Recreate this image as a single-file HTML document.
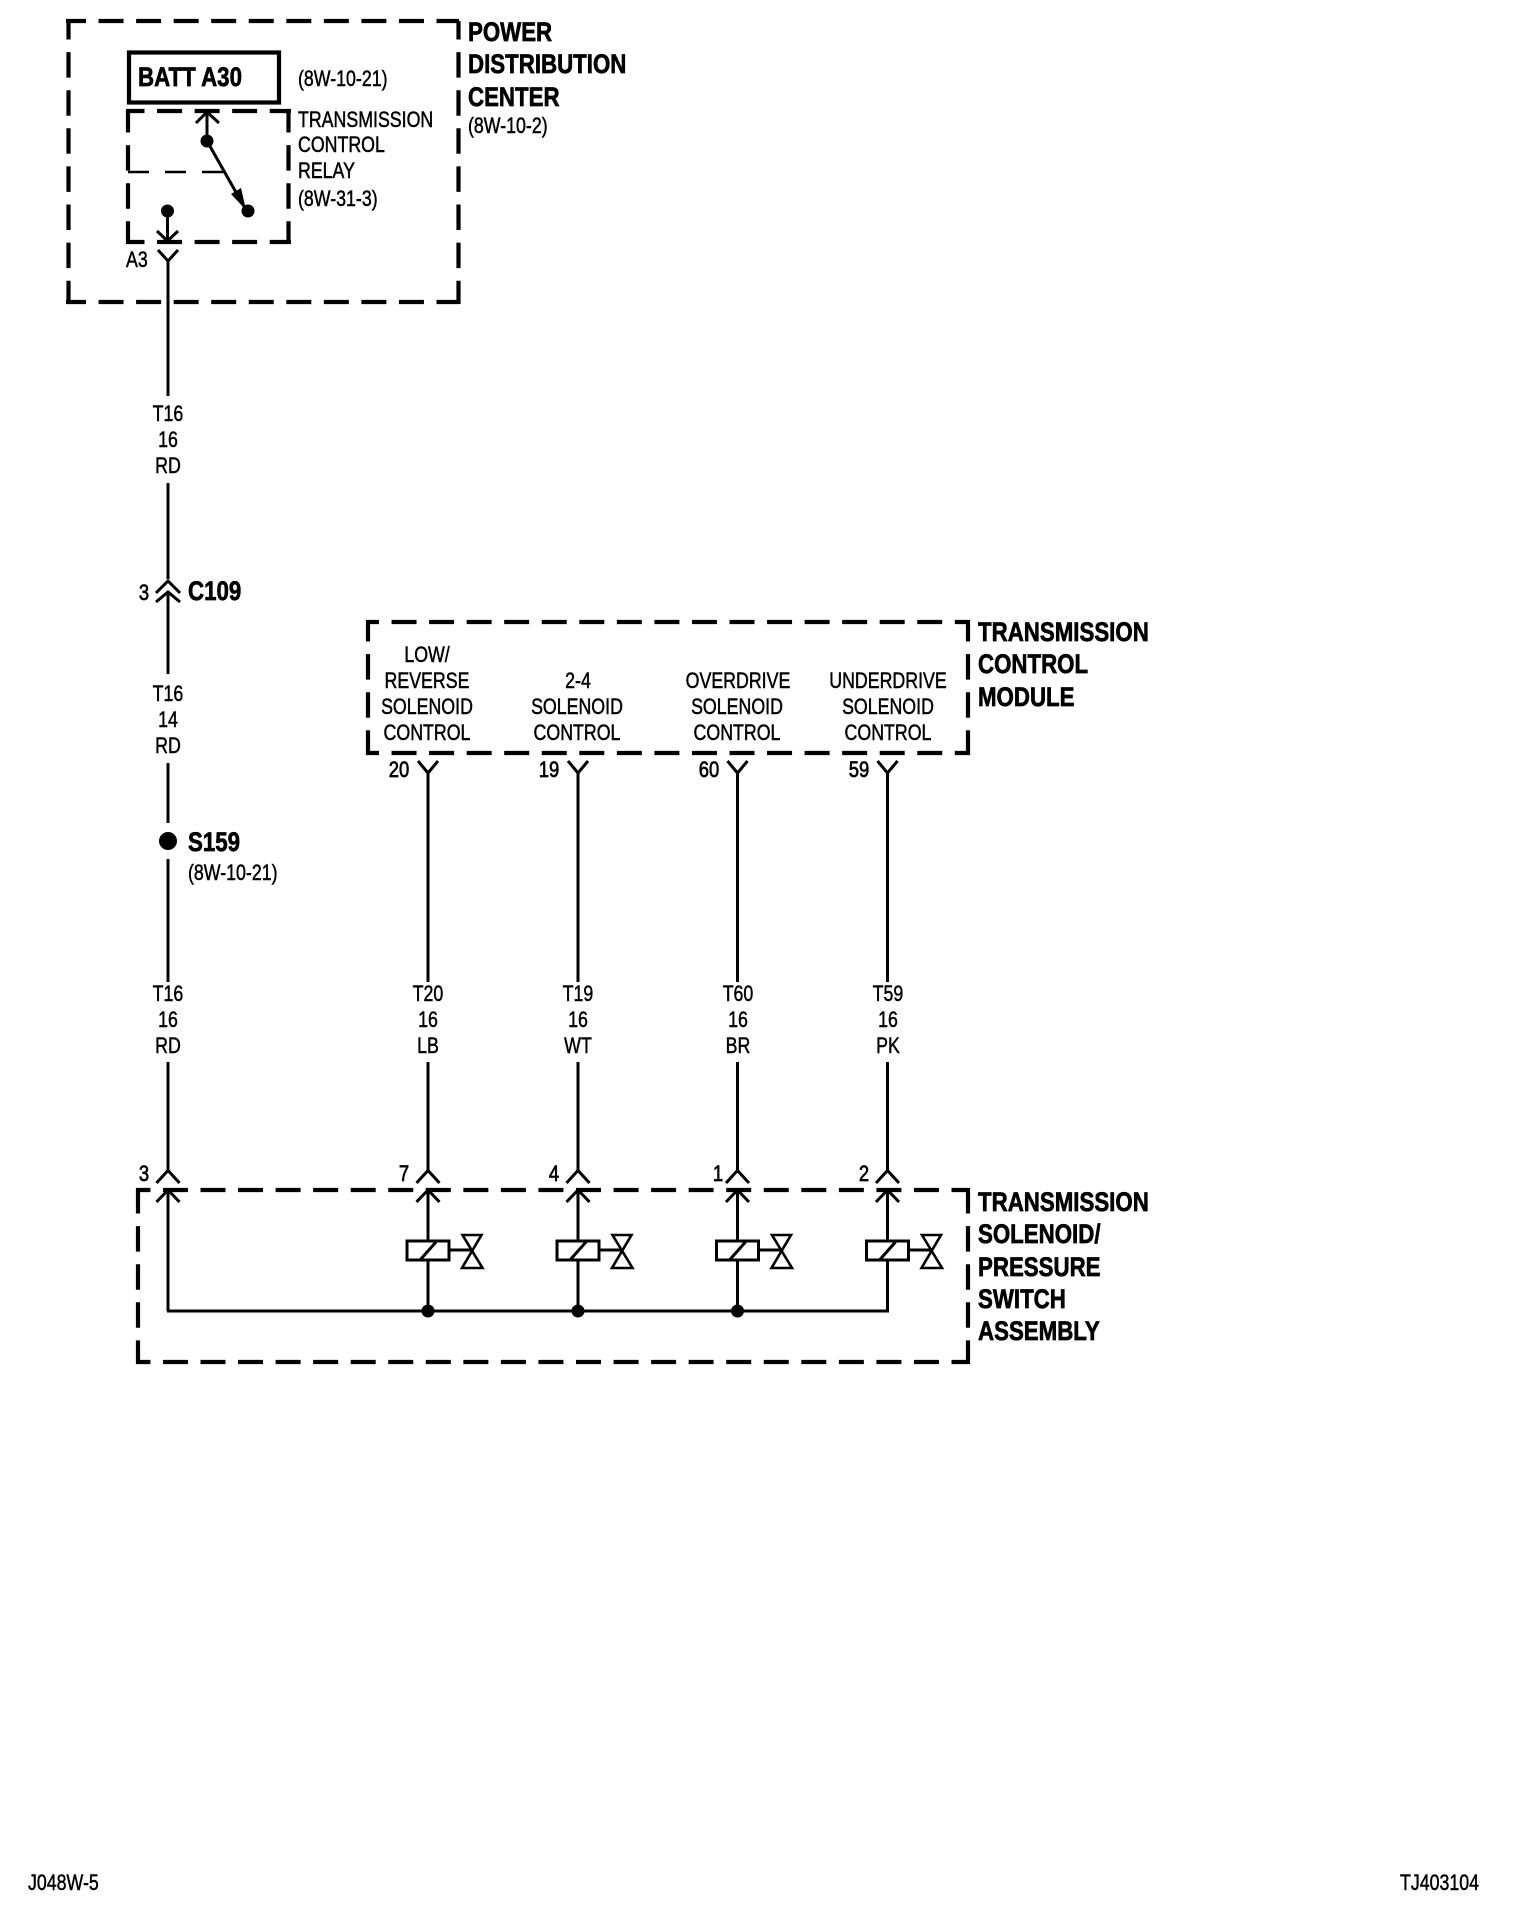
<!DOCTYPE html>
<html><head><meta charset="utf-8"><title>Wiring diagram</title>
<style>
html,body{margin:0;padding:0;background:#fff}
svg{display:block}
text{fill:#000;font-family:"Liberation Sans",sans-serif;transform-box:fill-box}
.b{font-size:27px;font-weight:bold;stroke:#000;stroke-width:.7px;transform-origin:0 0;transform:scaleX(.825)}
.r{font-size:22.5px;stroke:#000;stroke-width:.5px;transform-origin:0 0;transform:scaleX(.79)}
.c{font-size:22.5px;stroke:#000;stroke-width:.5px;text-anchor:middle;transform-origin:50% 0;transform:scaleX(.79)}
.p{font-size:22.5px;stroke:#000;stroke-width:.7px;text-anchor:middle;transform-origin:50% 0;transform:scaleX(.82)}
.w{fill:none;stroke:#000;stroke-width:3}
.d{fill:none;stroke:#000;stroke-width:4.2;stroke-dasharray:25 12.55}
.dv{fill:none;stroke:#000;stroke-width:4.2;stroke-dasharray:25.5 12.6}
</style></head>
<body>
<svg width="1520" height="1912" viewBox="0 0 1520 1912" xmlns="http://www.w3.org/2000/svg">
<rect width="1520" height="1912" fill="#fff"/>
<defs>
<g id="conn">
<path class="w" d="M-11.5 1183 L0 1170.5 L11.5 1183"/>
<path class="w" d="M-11.5 1202 L0 1190 L11.5 1202"/>
<path class="w" d="M0 1062V1171M0 1190V1311"/>
</g>
<g id="sol">
<rect x="-21" y="1241" width="42" height="19" fill="#fff" stroke="#000" stroke-width="3"/>
<path class="w" d="M-8 1260 L8 1242M21 1250H44"/>
<path fill="none" stroke="#000" stroke-width="2.6" d="M34.5 1235H53.5L34 1268H54.5L34.5 1235Z"/>
</g>
<path id="y" class="w" d="M-10 761 L0 773 L10 761M0 773V982"/>
</defs>

<!-- PDC box -->
<path class="d" stroke-dashoffset="5" d="M66 21H459"/>
<path class="d" stroke-dashoffset="5" d="M66 302H459"/>
<path class="dv" stroke-dashoffset="7" d="M68.5 21V304"/>
<path class="dv" stroke-dashoffset="7" d="M458.5 21V304"/>
<!-- BATT -->
<rect x="129" y="52.5" width="150" height="50" fill="none" stroke="#000" stroke-width="4.2"/>
<!-- relay box -->
<path class="d" stroke-dashoffset="6.5" d="M126 111H291"/>
<path class="d" stroke-dashoffset="6.5" d="M126 242H291"/>
<path class="dv" stroke-dashoffset="4" d="M128 111V244"/>
<path class="dv" stroke-dashoffset="4" d="M288.5 111V244"/>
<path fill="none" stroke="#000" stroke-width="2.6" stroke-dasharray="21 16" d="M128 172H224" />
<path class="w" d="M196 123L207 112L219 123M207 111V141"/>
<circle cx="207" cy="141" r="6.5"/>
<path class="w" d="M207 141L246 210"/>
<path d="M246 210L231 194L241 188Z"/>
<circle cx="248" cy="211" r="6.5"/>
<circle cx="167.5" cy="211" r="6.5"/>
<path class="w" d="M167.5 211V242M157 231L167.5 241L178 231"/>
<path class="w" d="M158 250L168 261L178 250M168 261V396"/>

<!-- left wire -->
<path class="w" d="M168 483V579M156 593L168 581L180 593M156 602L168 592L180 602M168 592V674M168 763V823M168 859V982"/>
<circle cx="168" cy="841" r="9"/>

<!-- TCM box -->
<path class="d" stroke-dashoffset="12" d="M366 622H970"/>
<path class="d" stroke-dashoffset="12" d="M366 753H970"/>
<path class="dv" stroke-dashoffset="4" d="M368 620V755"/>
<path class="dv" stroke-dashoffset="4" d="M968 620V755"/>
<use href="#y" x="428"/><use href="#y" x="578"/><use href="#y" x="737.5"/><use href="#y" x="887.5"/>

<!-- Assembly box -->
<path class="d" stroke-dashoffset="10.6" d="M136 1190H970"/>
<path class="d" stroke-dashoffset="10.6" d="M136 1362H970"/>
<path class="dv" d="M138 1188V1364" stroke-dashoffset="0"/>
<path class="dv" d="M968 1188V1364" stroke-dashoffset="0"/>
<use href="#conn" x="168"/><use href="#conn" x="428"/><use href="#conn" x="578"/><use href="#conn" x="737.5"/><use href="#conn" x="887.5"/>
<use href="#sol" x="428"/><use href="#sol" x="578"/><use href="#sol" x="737.5"/><use href="#sol" x="887.5"/>
<path class="w" d="M167 1311H889"/>
<circle cx="428" cy="1311" r="6.5"/><circle cx="578" cy="1311" r="6.5"/><circle cx="737.5" cy="1311" r="6.5"/>

<!-- labels -->
<text class="b" x="468" y="41">POWER</text>
<text class="b" x="468" y="73">DISTRIBUTION</text>
<text class="b" x="468" y="106">CENTER</text>
<text class="r" x="468" y="133">(8W-10-2)</text>
<text class="b" x="138" y="86">BATT A30</text>
<text class="r" x="298" y="86">(8W-10-21)</text>
<text class="r" x="298" y="127">TRANSMISSION</text>
<text class="r" x="298" y="152">CONTROL</text>
<text class="r" x="298" y="178">RELAY</text>
<text class="r" x="298" y="206">(8W-31-3)</text>
<text class="r" x="126" y="267">A3</text>

<text class="c" x="168" y="421">T16</text>
<text class="c" x="168" y="447">16</text>
<text class="c" x="168" y="473">RD</text>
<text class="p" x="144" y="600">3</text>
<text class="b" x="188" y="600">C109</text>
<text class="c" x="168" y="701">T16</text>
<text class="c" x="168" y="727">14</text>
<text class="c" x="168" y="753">RD</text>
<text class="b" x="188" y="851">S159</text>
<text class="r" x="188" y="880">(8W-10-21)</text>

<text class="b" x="978" y="641">TRANSMISSION</text>
<text class="b" x="978" y="673">CONTROL</text>
<text class="b" x="978" y="706">MODULE</text>

<text class="c" x="427" y="662">LOW/</text>
<text class="c" x="427" y="688">REVERSE</text>
<text class="c" x="427" y="714">SOLENOID</text>
<text class="c" x="427" y="740">CONTROL</text>
<text class="c" x="578" y="688">2-4</text>
<text class="c" x="577" y="714">SOLENOID</text>
<text class="c" x="577" y="740">CONTROL</text>
<text class="c" x="738" y="688">OVERDRIVE</text>
<text class="c" x="737" y="714">SOLENOID</text>
<text class="c" x="737" y="740">CONTROL</text>
<text class="c" x="888" y="688">UNDERDRIVE</text>
<text class="c" x="888" y="714">SOLENOID</text>
<text class="c" x="888" y="740">CONTROL</text>

<text class="p" x="399" y="777">20</text>
<text class="p" x="549" y="777">19</text>
<text class="p" x="709" y="777">60</text>
<text class="p" x="859" y="777">59</text>

<text class="c" x="168" y="1001">T16</text><text class="c" x="168" y="1027">16</text><text class="c" x="168" y="1053">RD</text>
<text class="c" x="428" y="1001">T20</text><text class="c" x="428" y="1027">16</text><text class="c" x="428" y="1053">LB</text>
<text class="c" x="578" y="1001">T19</text><text class="c" x="578" y="1027">16</text><text class="c" x="578" y="1053">WT</text>
<text class="c" x="738" y="1001">T60</text><text class="c" x="738" y="1027">16</text><text class="c" x="738" y="1053">BR</text>
<text class="c" x="888" y="1001">T59</text><text class="c" x="888" y="1027">16</text><text class="c" x="888" y="1053">PK</text>

<text class="p" x="144" y="1181">3</text>
<text class="p" x="404" y="1181">7</text>
<text class="p" x="554" y="1181">4</text>
<text class="p" x="718" y="1181">1</text>
<text class="p" x="864" y="1181">2</text>

<text class="b" x="978" y="1211">TRANSMISSION</text>
<text class="b" x="978" y="1243">SOLENOID/</text>
<text class="b" x="978" y="1276">PRESSURE</text>
<text class="b" x="978" y="1308">SWITCH</text>
<text class="b" x="978" y="1340">ASSEMBLY</text>

<text class="r" x="28" y="1890">J048W-5</text>
<text class="r" x="1400" y="1890">TJ403104</text>
</svg>
</body></html>
